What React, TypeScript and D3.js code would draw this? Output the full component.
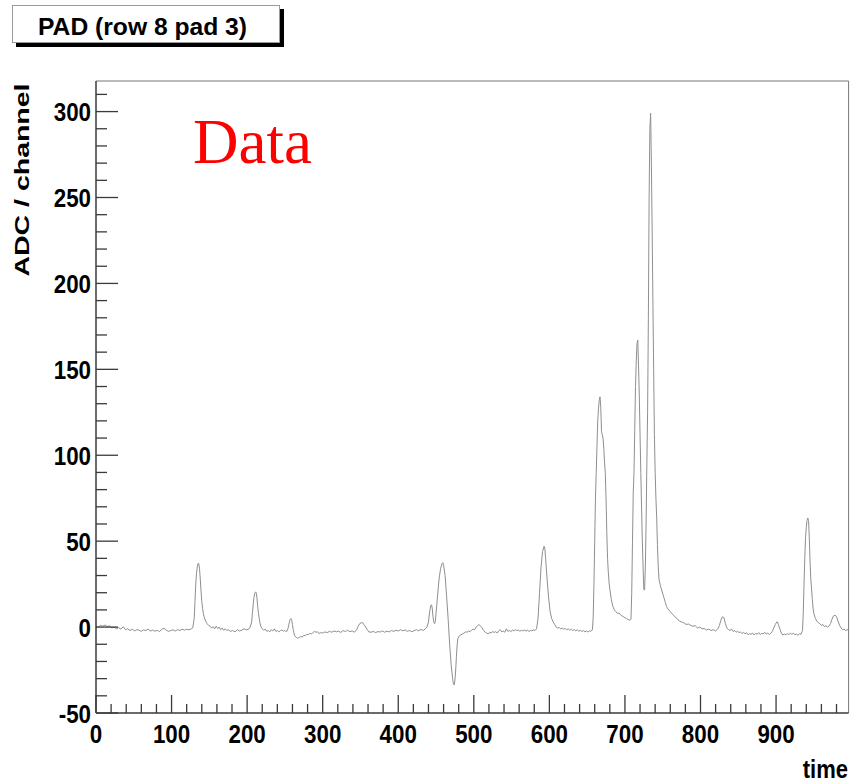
import React from "react";
import * as d3 from "d3";

const sampleTimes: number[] = [
  0,3,6,9,12,15,18,21,24,27,30,33,36,39,42,45,48,51,54,57,60,63,66,69,72,75,78,81,84,87,90,93,96,99,102,105,108,111,114,117,120,123,126,128,
  130,131,132,133,134,135,136,137,138,139,140,141,142,143,145,147,149,151,153,155,157,159,161,163,165,167,169,171,173,175,178,181,184,187,190,193,196,199,202,
  204,206,207,208,209,210,211,212,213,214,215,216,217,218,220,222,224,226,228,230,232,234,236,238,240,242,244,246,248,250,252,
  254,255,256,257,258,259,260,261,262,263,265,267,269,271,273,275,277,279,281,283,285,287,289,291,293,295,297,300,303,306,309,312,315,318,321,324,327,330,333,336,339,342,
  345,347,349,351,353,355,357,359,361,364,367,370,373,376,379,382,385,388,391,394,397,400,403,406,409,412,415,418,421,424,427,430,433,436,
  438,440,441,442,443,444,445,446,447,448,449,450,452,454,456,458,459,460,462,464,466,468,470,472,473,474,475,476,477,478,479,481,483,485,487,489,491,493,495,497,499,501,
  503,505,507,509,511,513,515,517,519,521,523,525,527,529,531,533,535,537,539,541,543,545,547,549,551,553,555,557,559,561,563,565,567,569,571,573,575,577,579,581,
  583,585,587,589,591,593,594,595,597,599,601,603,605,607,609,611,613,615,617,619,621,623,625,627,629,631,633,635,637,639,641,643,645,647,649,651,653,655,657,
  658,659,660,661,662,663,664,665,666,667,668,669,670,671,672,673,674,675,676,677,678,679,680,682,684,686,688,690,692,694,696,698,700,702,704,706,708,
  709,710,711,712,713,714,715,716,717,718,719,720,721,722,723,724,725,726,727,728,729,730,731,732,733,734,735,736,737,738,739,740,741,742,743,744,745,747,749,751,753,755,757,
  760,763,766,769,772,775,778,781,784,787,790,793,796,799,802,805,808,811,814,817,820,823,825,827,829,831,833,835,837,839,841,843,845,847,849,851,853,855,857,859,861,863,865,867,869,871,873,875,877,879,881,883,885,887,889,891,893,
  895,897,899,901,902,903,905,907,909,911,913,915,917,919,921,923,925,927,929,931,933,935,936,937,938,939,940,941,942,943,944,945,946,947,948,949,950,952,954,956,958,960,962,964,966,968,970,
  972,974,976,978,980,982,984,986,988,990,992,994,996,
];

const adcValues: number[] = [
  0.5,0,1,0.5,1.2,0.3,0.8,-0.5,0,-1,-0.3,-1.2,0.2,-1.5,-1,-2,-1.3,-2.2,-1.5,-1.8,-2.5,-1.6,-2,-1.2,-2.3,-1.7,-2.4,-1.9,-2.6,-1.4,-0.6,-1.8,-2.5,-2,-1.6,-2.3,-1.5,-2,-1.2,-1.8,-1.3,-1.6,-1,-0.5,
  5,15,25,31,35,37,37,34,28,21,15,11,8,6,3.5,2,1,0.5,-0.5,0.3,-1,0.5,-0.8,0,-1.5,-0.5,-1.8,-1,-2,-1.5,-2.5,-2,-2.8,-1.5,-2.2,-1.8,-1,-1.6,-1.2,
  0,3,8,13,17,19.5,20.5,20,17,12,8,5,2.5,0.5,-1,-1.8,-1.2,-2.5,-2,-2.8,-1.5,-2.3,-1,-2.5,-2,-2.8,-2.1,-1.6,-2.4,-1.9,-2.8,
  -1,1,3,4.5,5,4,1.5,-1.5,-3.5,-5,-6,-6.5,-6,-5.5,-5.8,-4.8,-5,-4.2,-4.5,-3.6,-4,-3.3,-2.5,-3,-2.7,-3.8,-3.2,-3.5,-2.8,-3.2,-2.5,-3,-2.2,-2.8,-2.4,-3.1,-2,-2.6,-1.8,-2.7,-2.2,-3,
  -1.5,0.5,2,2.5,2.5,1.2,0,-1.5,-2.8,-3,-2.5,-3.2,-2.6,-2.9,-2.2,-3,-2.4,-2.8,-2,-2.5,-1.8,-2.3,-1.5,-2.2,-1.6,-2.5,-2,-2.7,-2.1,-1.5,-2.2,-1.3,-2,-1,
  0,3,7,10,12.5,13,11,6,3,2,3,8,18,28,34,37,37.5,36,30,18,5,-10,-22,-30,-33,-33.7,-31,-25,-17,-10,-6.5,-5,-4.5,-4,-3.5,-2.8,-3,-2.3,-2.7,-1.8,-1.2,-1.5,
  0,0.8,1.5,0.5,-0.5,-2,-3,-3.5,-4,-3,-3.5,-2.5,-3.2,-2.6,-3.5,-2.2,-1.5,-2.8,-2.3,-3,-1,-2.5,-2,-2.6,-1.8,-2.2,-1.5,-2,-1.8,-2.4,-1.9,-2.2,-1.7,-2.3,-1.8,-2.5,-2,-2.2,-1.6,-2,
  -1,5,20,35,44,47,46,40,28,17,9,5,3,1.5,0,-0.5,-0.3,-1,-0.6,-1.2,-0.8,-1.5,-1,-1.8,-1.2,-2,-1.5,-2.2,-1.6,-2.4,-1.9,-2.6,-2,-2.8,-2.2,-2.9,-2.1,-2.5,-1.5,
  6,25,50,75,90,105,120,127,132,134,128,114,112,110,104,96,90,75,55,40,32,26,22,16,12,10,9,8,8,7.5,6.5,6,5.5,5,4.5,4,4.5,
  20,50,78,90,115,140,155,165,167,152,135,112,90,70,50,35,22,21.5,35,60,95,125,180,250,290,299,270,232,190,150,112,90,75,64,48,36,28,24,21,18,15,12,10.5,
  9,7.5,6,5,3.5,3,2.5,1.5,1.8,1,0.5,0.8,-0.5,0,-1,-0.8,-1.7,-1.2,-2,-1.5,-2.2,-1,1,4,6,5.5,2,-0.5,-1.5,-2,-1.2,-2.5,-2,-3,-2.4,-3.2,-2.8,-3.8,-3,-4,-3.3,-4.5,-3.8,-4.2,-3.5,-4.6,-3.7,-4.2,-3.2,-4.4,-3.6,-4,-3,-4.1,-3.5,-4.3,-3.6,
  -2.5,-0.5,1.5,3,3,1.5,-1,-3.5,-4.6,-4,-4.5,-3.8,-4.3,-3.6,-4.2,-3.5,-4.5,-4,-4.8,-3.9,-4.2,-2,8,25,40,52,58,62,63.5,62,52,38,28,22,16,11,8,5,3.5,2.5,2,1,1.5,0.3,0.8,0,0.5,
  2,4.5,6.5,7,6,3.5,1,-0.5,-1.5,-1.2,-2,-1.5,-1.8,
];

const xTicks: number[] = [0, 100, 200, 300, 400, 500, 600, 700, 800, 900];
const yTicks: number[] = [-50, 0, 50, 100, 150, 200, 250, 300];

const titleText = "PAD (row 8 pad 3)";
const yTitle = "ADC / channel";
const xTitle = "time";
const dataLabel = "Data";

const W = 850;
const H = 783;
const left = 96;
const right = 848.6;
const top = 81;
const bottom = 713;

const font = "'Liberation Sans', Arial, Helvetica, sans-serif";

function Label(props: {
  x: number;
  y: number;
  anchor: "start" | "middle" | "end";
  size: number;
  sx?: number;
  children: React.ReactNode;
}) {
  const sx = props.sx ?? 0.86;
  return (
    <text
      transform={`translate(${props.x},${props.y}) scale(${sx},1)`}
      textAnchor={props.anchor}
      fontFamily={font}
      fontWeight="bold"
      fontSize={props.size}
      fill="#000"
    >
      {props.children}
    </text>
  );
}

export default function App() {
  const x = d3.scaleLinear().domain([0, 996]).range([left, right]);
  const y = d3.scaleLinear().domain([-50, 317.8]).range([bottom, top]);

  const pts: [number, number][] = sampleTimes.map((t, i) => [t, adcValues[i]]);
  const line = d3
    .line<[number, number]>()
    .x((d) => x(d[0]))
    .y((d) => y(d[1]))
    .curve(d3.curveLinear);

  const xMinor = d3.range(0, 996, 20).filter((v) => v % 100 !== 0);
  const yMinor = d3.range(-50, 317, 10).filter((v) => v % 50 !== 0);

  const axisColor = "#3a3a3a";

  return (
    <svg
      width={W}
      height={H}
      style={{ position: "absolute", left: 0, top: 0, background: "#fff" }}
    >
      {/* title box */}
      <rect x={16} y={9} width={268} height={38} fill="#000" />
      <rect x={12.5} y={5.5} width={267} height={37} fill="#fff" stroke="#9a9a9a" strokeWidth={1} />
      <text
        x={38}
        y={35}
        fontFamily={font}
        fontWeight="bold"
        fontSize={23.5}
        textLength={209}
        lengthAdjust="spacingAndGlyphs"
        fill="#000"
      >
        {titleText}
      </text>

      {/* frame */}
      <line x1={left} x2={right} y1={top} y2={top} stroke="#777" strokeWidth={1} />
      <line x1={right} x2={right} y1={top} y2={bottom} stroke="#777" strokeWidth={1} />

      {/* data trace */}
      <path d={line(pts) || ""} fill="none" stroke="#8f8f8f" strokeWidth={1} />

      {/* y axis */}
      <line x1={left} x2={left} y1={top} y2={bottom} stroke={axisColor} strokeWidth={1.5} />
      {yTicks.map((v) => (
        <line key={"ym" + v} x1={left} x2={left + 22} y1={y(v)} y2={y(v)} stroke={axisColor} strokeWidth={1.3} />
      ))}
      {yMinor.map((v) => (
        <line key={"yn" + v} x1={left} x2={left + 11} y1={y(v)} y2={y(v)} stroke={axisColor} strokeWidth={1.3} />
      ))}
      {yTicks.map((v) => (
        <Label key={"yl" + v} x={91} y={y(v) + 9.5} anchor="end" size={26}>
          {v}
        </Label>
      ))}

      {/* x axis */}
      <line x1={left} x2={right} y1={bottom} y2={bottom} stroke={axisColor} strokeWidth={1.5} />
      {xTicks.map((v) => (
        <line key={"xm" + v} x1={x(v)} x2={x(v)} y1={bottom} y2={bottom - 18} stroke={axisColor} strokeWidth={1.3} />
      ))}
      {xMinor.map((v) => (
        <line key={"xn" + v} x1={x(v)} x2={x(v)} y1={bottom} y2={bottom - 9} stroke={axisColor} strokeWidth={1.3} />
      ))}
      {xTicks.map((v) => (
        <Label key={"xl" + v} x={x(v)} y={743} anchor="middle" size={26}>
          {v}
        </Label>
      ))}

      {/* axis titles */}
      <Label x={848} y={778} anchor="end" size={25} sx={0.88}>
        {xTitle}
      </Label>
      <text
        transform="translate(29,180) rotate(-90)"
        textAnchor="middle"
        fontFamily={font}
        fontWeight="bold"
        fontSize={20}
        textLength={193}
        lengthAdjust="spacingAndGlyphs"
        fill="#000"
      >
        {yTitle}
      </text>

      {/* Data label */}
      <text x={193} y={163} fontFamily="'Liberation Serif', 'Times New Roman', serif" fontSize={63} fill="#ff0000">
        {dataLabel}
      </text>
    </svg>
  );
}
